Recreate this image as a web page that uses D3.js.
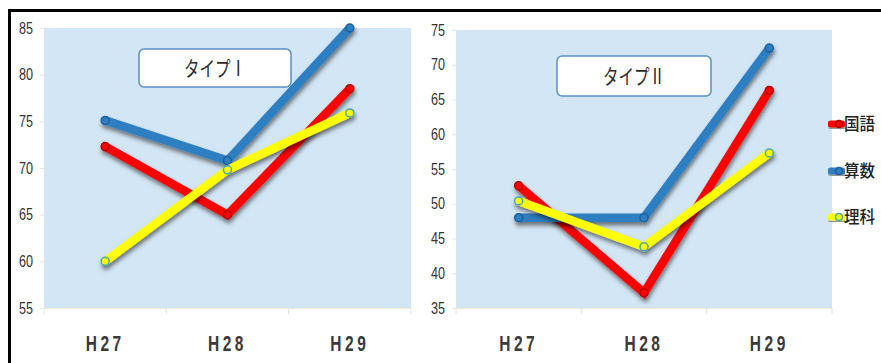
<!DOCTYPE html>
<html><head><meta charset="utf-8">
<script src="https://cdn.jsdelivr.net/npm/d3@7"></script>
<style>body{margin:0;background:#fff}svg{display:block}</style>
</head><body>
<svg id="c" width="881" height="363"></svg>
<script>
const categories = ["H27", "H28", "H29"];
const seriesNames = ["国語", "算数", "理科"];
const seriesColors = ["#ff0000", "#2f7ec2", "#ffff00"];
const markerColors = ["#b00000", "#1f5f9c", "#4aa6b0"];
// タイプⅠ
const typeI_kokugo = [72.3, 65.0, 78.5];
const typeI_sansu  = [75.1, 70.8, 85.0];
const typeI_rika   = [60.0, 69.8, 75.9];
const typeI_ticks  = [55, 60, 65, 70, 75, 80, 85];
// タイプⅡ
const typeII_kokugo = [52.6, 37.2, 66.3];
const typeII_sansu  = [48.0, 48.0, 72.4];
const typeII_rika   = [50.4, 43.8, 57.3];
const typeII_ticks  = [35, 40, 45, 50, 55, 60, 65, 70, 75];

const svg = d3.select("#c");
const defs = svg.append("defs");
const f = defs.append("filter").attr("id","sh").attr("x","-20%").attr("y","-20%").attr("width","140%").attr("height","140%");
f.append("feDropShadow").attr("dx",1).attr("dy",3.5).attr("stdDeviation",2).attr("flood-color","#000").attr("flood-opacity",0.5);

// outer border (top & left)
svg.append("line").attr("x1",9.5).attr("x2",881).attr("y1",10.5).attr("y2",10.5).attr("stroke","#000").attr("stroke-width",3);
svg.append("line").attr("x1",9.5).attr("x2",9.5).attr("y1",9).attr("y2",363).attr("stroke","#000").attr("stroke-width",3);

const panels = [
  {title:"タイプⅠ", series:[typeI_kokugo, typeI_sansu, typeI_rika], ticks:typeI_ticks,
   x0:44, x1:411, y0:28, y1:308, box:[139,49,152,38]},
  {title:"タイプⅡ", series:[typeII_kokugo, typeII_sansu, typeII_rika], ticks:typeII_ticks,
   x0:456, x1:832, y0:30, y1:308, box:[557,56,154,40]}
];

const numFont = "'Liberation Sans',Arial,sans-serif";
const jpFont = "'Noto Sans CJK JP',sans-serif";

panels.forEach(p => {
  const g = svg.append("g");
  const x = d3.scaleBand().domain(categories).range([p.x0, p.x1]);
  const y = d3.scaleLinear().domain(d3.extent(p.ticks)).range([p.y1, p.y0]);
  // plot background
  g.append("rect").attr("x",p.x0).attr("y",p.y0).attr("width",p.x1-p.x0).attr("height",p.y1-p.y0)
    .attr("fill","#d3e6f5");
  // y axis labels
  const ya = g.append("g").attr("transform",`translate(${p.x0},0)`)
    .call(d3.axisLeft(y).tickValues(p.ticks).tickSize(4).tickPadding(7).tickFormat(d3.format("d")));
  ya.select(".domain").remove();
  ya.selectAll("line").attr("stroke","#e6e6e6");
  ya.selectAll("text").attr("font-family",numFont).attr("font-size",16).attr("fill","#333")
    .attr("textLength",14).attr("lengthAdjust","spacingAndGlyphs");
  // x axis
  const xa = g.append("g").attr("transform",`translate(0,${p.y1})`)
    .call(d3.axisBottom(x).tickSize(0).tickPadding(27));
  xa.select(".domain").attr("stroke","#f0ead0");
  xa.selectAll("text").attr("font-family",numFont).attr("font-size",22).attr("font-weight","bold").attr("fill","#3a3a3a")
    .attr("letter-spacing","5px").attr("textLength",39).attr("lengthAdjust","spacingAndGlyphs");
  // category boundary ticks
  const bounds = categories.map(c=>x(c)).concat([p.x1]);
  g.selectAll(".bt").data(bounds).join("line")
    .attr("x1",d=>d).attr("x2",d=>d).attr("y1",p.y1).attr("y2",p.y1+6).attr("stroke","#e2e2e2");
  // title box
  g.append("rect").attr("x",p.box[0]).attr("y",p.box[1]).attr("width",p.box[2]).attr("height",p.box[3])
    .attr("rx",5).attr("fill","#fff").attr("stroke","#5a8ec8").attr("stroke-width",1.5);
  g.append("text").attr("x",p.box[0]+p.box[2]/2).attr("y",p.box[1]+p.box[3]/2+7.5).attr("text-anchor","middle")
    .attr("font-family",jpFont).attr("font-size",21).attr("fill","#2a2a2a")
    .attr("textLength",62).attr("lengthAdjust","spacingAndGlyphs").text(p.title);
  // lines
  const line = d3.line().x((d,i)=>x(categories[i])+x.bandwidth()/2).y(d=>y(d));
  [0,1,2].forEach(si => {
    const vals = p.series[si];
    const sg = g.append("g").attr("filter","url(#sh)");
    sg.append("path").attr("d",line(vals)).attr("fill","none").attr("stroke",seriesColors[si])
      .attr("stroke-width",8.5).attr("stroke-linejoin","miter").attr("stroke-linecap","butt");
    sg.selectAll("circle").data(vals).join("circle")
      .attr("cx",(d,i)=>x(categories[i])+x.bandwidth()/2).attr("cy",d=>y(d)).attr("r",4)
      .attr("fill",seriesColors[si]).attr("stroke",markerColors[si]).attr("stroke-width",1.5);
  });
});

// legend
const leg = svg.append("g");
seriesNames.forEach((n,i) => {
  const yy = [124,171,217][i];
  const lg = leg.append("g").attr("filter","url(#sh)");
  lg.append("line").attr("x1",831).attr("x2",842).attr("y1",yy).attr("y2",yy)
    .attr("stroke",seriesColors[i]).attr("stroke-width",7).attr("stroke-linecap","round");
  lg.append("circle").attr("cx",839).attr("cy",yy).attr("r",3.5).attr("fill",seriesColors[i])
    .attr("stroke",markerColors[i]).attr("stroke-width",1.5);
  leg.append("text").attr("x",844).attr("y",yy+6).attr("font-family",jpFont).attr("font-size",16.5)
    .attr("font-weight",500).attr("fill","#222")
    .attr("textLength",31).attr("lengthAdjust","spacingAndGlyphs").text(n);
});
</script>
</body></html>
